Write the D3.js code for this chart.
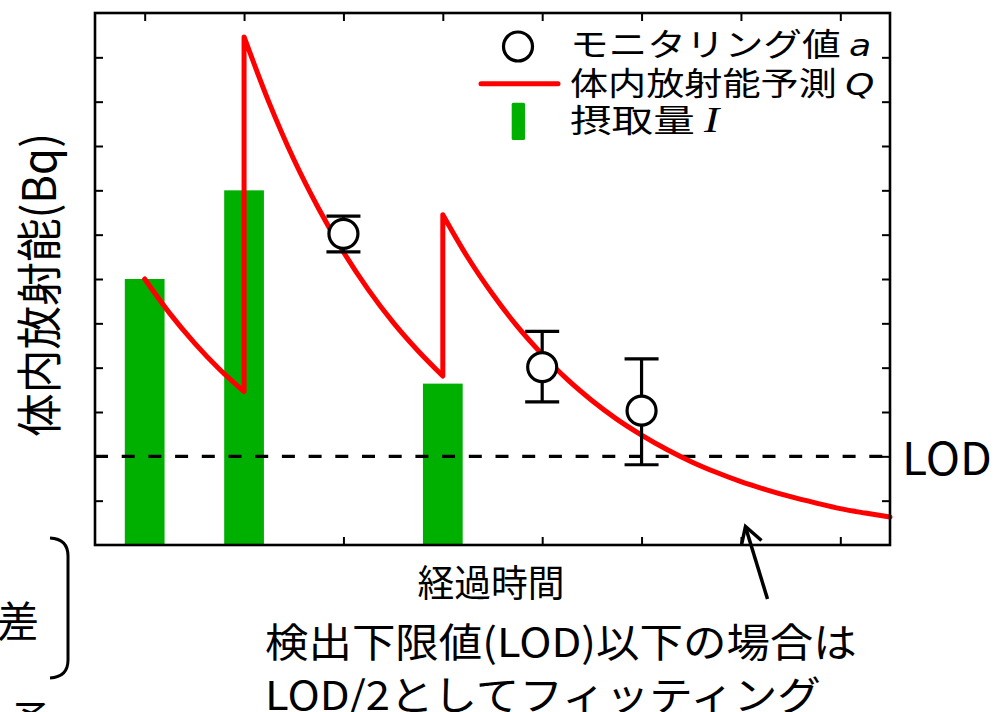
<!DOCTYPE html>
<html>
<head>
<meta charset="utf-8">
<script src="https://cdn.jsdelivr.net/npm/d3@7"></script>
<style>
  html, body { margin: 0; padding: 0; background: #fff; }
  svg { display: block; }
  text { font-family: "Noto Sans CJK JP", "Noto Sans", sans-serif; fill: #000; }
</style>
</head>
<body>
<svg id="chart" width="995" height="712"></svg>
<script>
// Intake events (time, amount)
const intakeTimes = [0.5, 1.5, 3.5];
const intakeAmounts = [6.0, 8.0, 3.64];

// Monitoring measurements with uncertainty range
const monitorTimes = [2.5, 4.5, 5.5];
const monitorValues = [7.02, 4.01, 3.03];
const monitorLow = [6.61, 3.23, 1.81];
const monitorHigh = [7.42, 4.82, 4.20];

// Predicted body activity, one decay segment per intake
const predTimesA = [0.5, 0.75, 1.0, 1.25, 1.5];
const predValuesA = [6.00, 5.23, 4.56, 3.97, 3.46];
const predTimesB = [1.5, 1.75, 2.0, 2.25, 2.5, 2.75, 3.0, 3.25, 3.5];
const predValuesB = [11.46, 9.99, 8.70, 7.59, 6.61, 5.76, 5.02, 4.38, 3.81];
const predTimesC = [3.5, 3.75, 4.0, 4.25, 4.5, 4.75, 5.0, 5.25, 5.5, 5.75, 6.0, 6.25, 6.5, 6.75, 7.0, 7.25, 7.5, 7.75, 8.0];
const predValuesC = [7.45, 6.49, 5.66, 4.93, 4.30, 3.74, 3.26, 2.84, 2.48, 2.16, 1.88, 1.64, 1.43, 1.25, 1.09, 0.95, 0.82, 0.72, 0.63];

// Limit of detection
const lodValue = 2;

// Tick positions (unlabelled)
const xTicks = [0.5, 1.5, 2.5, 3.5, 4.5, 5.5, 6.5, 7.5];
const yTicks = [1, 2, 3, 4, 5, 6, 7, 8, 9, 10, 11];

// Text
const yLabel = "体内放射能(Bq)";
const xLabel = "経過時間";
const legendLabels = [["モニタリング値", "a"], ["体内放射能予測", "Q"], ["摂取量", "I"]];
const noteLines = ["検出下限値(LOD)以下の場合は", "LOD/2としてフィッティング"];

const svg = d3.select("#chart");
const L = 95, R = 890, T = 13, B = 545;

const x = d3.scaleLinear().domain([0, 8]).range([L, R]);
const y = d3.scaleLinear().domain([0, 12]).range([B, T]);

// Stretch a text element horizontally to a target width around anchorX
function fitWidth(sel, target, anchorX) {
  const w = sel.node().getComputedTextLength();
  const s = target / w;
  sel.attr("transform", `translate(${anchorX},0) scale(${s},1) translate(${-anchorX},0)`);
}

// Ticks (inward on all four sides)
const tickStyle = g => {
  g.select(".domain").remove();
  g.selectAll(".tick line").attr("stroke", "#000").attr("stroke-width", 2);
};
svg.append("g").attr("transform", `translate(0,${B})`)
  .call(d3.axisBottom(x).tickValues(xTicks).tickSize(-8).tickSizeOuter(0).tickFormat(""))
  .call(tickStyle);
svg.append("g").attr("transform", `translate(0,${T})`)
  .call(d3.axisTop(x).tickValues(xTicks).tickSize(-8).tickSizeOuter(0).tickFormat(""))
  .call(tickStyle);
svg.append("g").attr("transform", `translate(${L},0)`)
  .call(d3.axisLeft(y).tickValues(yTicks).tickSize(-8).tickSizeOuter(0).tickFormat(""))
  .call(tickStyle);
svg.append("g").attr("transform", `translate(${R},0)`)
  .call(d3.axisRight(y).tickValues(yTicks).tickSize(-8).tickSizeOuter(0).tickFormat(""))
  .call(tickStyle);

// Intake bars
const barW = 0.4;
svg.append("g").selectAll("rect")
  .data(intakeTimes.map((t, i) => ({ t, v: intakeAmounts[i] })))
  .join("rect")
  .attr("x", d => x(d.t - barW / 2))
  .attr("width", d => x(d.t + barW / 2) - x(d.t - barW / 2))
  .attr("y", d => y(d.v))
  .attr("height", d => y(0) - y(d.v))
  .attr("fill", "#00b000");

// LOD dashed line
svg.append("line")
  .attr("x1", x(0)).attr("x2", x(8))
  .attr("y1", y(lodValue)).attr("y2", y(lodValue))
  .attr("stroke", "#000").attr("stroke-width", 3.2)
  .attr("stroke-dasharray", "13,13.7");

// Predicted activity curve
const lineGen = d3.line().x(d => x(d[0])).y(d => y(d[1])).curve(d3.curveMonotoneX);
const segments = [
  d3.zip(predTimesA, predValuesA),
  d3.zip(predTimesB, predValuesB),
  d3.zip(predTimesC, predValuesC)
];
const pathD = segments.map((s, i) => {
  const d = lineGen(s);
  return i === 0 ? d : d.replace(/^M/, "L");
}).join("");
svg.append("path")
  .attr("d", pathD)
  .attr("fill", "none")
  .attr("stroke", "#ff0000")
  .attr("stroke-width", 5)
  .attr("stroke-linejoin", "round")
  .attr("stroke-linecap", "round");

// Monitoring points with error bars
const mon = monitorTimes.map((t, i) => ({ t, v: monitorValues[i], lo: monitorLow[i], hi: monitorHigh[i] }));
const capHalf = 17;
const eg = svg.append("g").attr("stroke", "#000").attr("stroke-width", 3.2);
eg.selectAll(".stem").data(mon).join("line")
  .attr("x1", d => x(d.t)).attr("x2", d => x(d.t))
  .attr("y1", d => y(d.lo)).attr("y2", d => y(d.hi));
eg.selectAll(".capHi").data(mon).join("line")
  .attr("x1", d => x(d.t) - capHalf).attr("x2", d => x(d.t) + capHalf)
  .attr("y1", d => y(d.hi)).attr("y2", d => y(d.hi));
eg.selectAll(".capLo").data(mon).join("line")
  .attr("x1", d => x(d.t) - capHalf).attr("x2", d => x(d.t) + capHalf)
  .attr("y1", d => y(d.lo)).attr("y2", d => y(d.lo));
svg.append("g").selectAll("circle").data(mon).join("circle")
  .attr("cx", d => x(d.t)).attr("cy", d => y(d.v)).attr("r", 14.5)
  .attr("fill", "#fff").attr("stroke", "#000").attr("stroke-width", 3.2);

// Plot frame
svg.append("rect")
  .attr("x", L).attr("y", T).attr("width", R - L).attr("height", B - T)
  .attr("fill", "none").attr("stroke", "#000").attr("stroke-width", 2.6);

// Legend
const legX = 570;
const legBase = [56, 95, 132.5];
const legWidths = [293, 296, 140];
const legFamilies = ["DejaVu Sans", "DejaVu Sans", "Liberation Serif"];
const legSymSize = [30, 31, 35];
legendLabels.forEach((lab, i) => {
  const t = svg.append("text").attr("x", legX).attr("y", legBase[i]).attr("font-size", 32);
  t.append("tspan").text(lab[0]);
  t.append("tspan").attr("dx", 7).attr("font-style", "italic")
    .attr("font-family", legFamilies[i]).attr("font-size", legSymSize[i]).text(lab[1]);
  fitWidth(t, legWidths[i], legX);
});
svg.append("circle").attr("cx", 518).attr("cy", 46.5).attr("r", 14.5)
  .attr("fill", "#fff").attr("stroke", "#000").attr("stroke-width", 3.2);
svg.append("line").attr("x1", 481).attr("x2", 558).attr("y1", 83.7).attr("y2", 83.7)
  .attr("stroke", "#ff0000").attr("stroke-width", 5).attr("stroke-linecap", "round");
svg.append("rect").attr("x", 511.7).attr("y", 102.7).attr("width", 13.3).attr("height", 37.3)
  .attr("rx", 1.5).attr("fill", "#00b000");

// Y axis title
const yt = svg.append("text").attr("x", 0).attr("y", 0)
  .attr("text-anchor", "middle").attr("font-size", 46).text(yLabel);
{
  const w = yt.node().getComputedTextLength();
  yt.attr("transform", `translate(56,285) rotate(-90) scale(${304 / w},1)`);
}

// X axis title
const xt = svg.append("text").attr("x", 491).attr("y", 597)
  .attr("text-anchor", "middle").attr("font-size", 37).text(xLabel);
fitWidth(xt, 147, 491);

// LOD label
const lodT = svg.append("text").attr("x", 902).attr("y", 475).attr("font-size", 45).text("LOD");
fitWidth(lodT, 90, 902);

// Note under the chart
const n1 = svg.append("text").attr("x", 265).attr("y", 657).attr("font-size", 40).text(noteLines[0]);
fitWidth(n1, 592, 265);
const n2 = svg.append("text").attr("x", 265).attr("y", 710).attr("font-size", 40).text(noteLines[1]);
fitWidth(n2, 556, 265);

// Arrow pointing to the tail of the curve
svg.append("line").attr("x1", 767.5).attr("y1", 599).attr("x2", 745.5).attr("y2", 527)
  .attr("stroke", "#000").attr("stroke-width", 3.5);
svg.append("polyline").attr("points", "741.5,545 745.5,526.5 761.5,540.5")
  .attr("fill", "none").attr("stroke", "#000").attr("stroke-width", 3.5)
  .attr("stroke-linejoin", "miter");

// Partial side annotation at the left edge
svg.append("path").attr("d", "M50,538 Q68,539 68,556 L68,660 Q68,677 50,678")
  .attr("fill", "none").attr("stroke", "#000").attr("stroke-width", 3);
const sa = svg.append("text").attr("x", 39).attr("y", 637).attr("text-anchor", "end")
  .attr("font-size", 42).text("差");
fitWidth(sa, 42, 39);
svg.append("text").attr("x", 10).attr("y", 736).attr("font-size", 42).text("予");
</script>
</body>
</html>
